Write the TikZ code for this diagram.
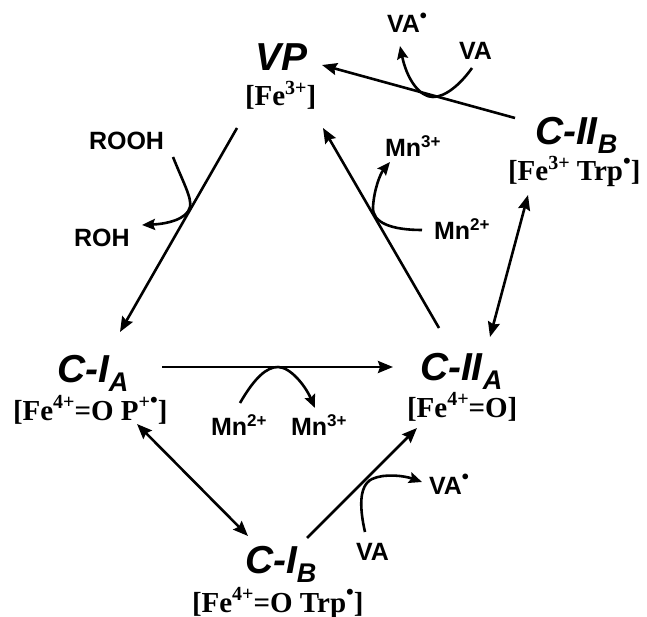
\documentclass[tikz,border=0pt]{standalone}
\usepackage{fontspec}
\setmainfont{Liberation Serif}
\setsansfont{Liberation Sans}
\usetikzlibrary{arrows.meta}
\newcommand\mainlab[2]{{\sffamily\bfseries\itshape\fontsize{39}{39}\selectfont #1\raisebox{-9pt}{\fontsize{27}{27}\selectfont #2}}}
\newcommand\vplab[1]{{\sffamily\bfseries\itshape\fontsize{39}{39}\selectfont #1}}
\newcommand\sidelab[1]{{\sffamily\bfseries\fontsize{25}{25}\selectfont #1}}
\newcommand\ssup[1]{\raisebox{0.36em}{\fontsize{17}{17}\selectfont #1}}
\newcommand\sbul{\raisebox{0.42em}{\fontsize{20}{20}\selectfont •}}
\newcommand\statelab[1]{{\rmfamily\bfseries\fontsize{29}{29}\selectfont #1}}
\newcommand\rsup[1]{\raisebox{0.38em}{\fontsize{20}{20}\selectfont #1}}
\newcommand\rbul{\raisebox{0.42em}{\fontsize{22}{22}\selectfont •}}
\tikzset{
  lab/.style={anchor=base west, inner sep=0pt, outer sep=0pt},
  conn/.style={line width=2.6pt, -{Stealth[length=15pt,width=12pt,inset=2pt]}},
  dconn/.style={line width=2.6pt, {Stealth[length=15pt,width=12pt,inset=2pt]}-{Stealth[length=15pt,width=12pt,inset=2pt]}},
  side/.style={line width=2.6pt, -{Stealth[length=13pt,width=11pt,inset=2pt]}},
}
\begin{document}
\begin{tikzpicture}[x=1pt,y=-1pt]
\useasboundingbox (0,0) rectangle (647,617);
% states
\node[lab] (vp) at (255,71) {\vplab{VP}};
\node[lab] (vps) at (245,106) {\statelab{[Fe\rsup{3+}]}};
\node[lab] (c2b) at (535,145) {\mainlab{C-II}{B}};
\node[lab] (c2bs) at (508,181) {\statelab{[Fe\rsup{3+} Trp\rbul]}};
\node[lab] (c1a) at (57,382) {\mainlab{C-I}{A}};
\node[lab] (c1as) at (13,420) {\statelab{[Fe\rsup{4+}=O P\rsup{+}\rbul]}};
\node[lab] (c2a) at (420,380) {\mainlab{C-II}{A}};
\node[lab] (c2as) at (407,417) {\statelab{[Fe\rsup{4+}=O]}};
\node[lab] (c1b) at (245,573) {\mainlab{C-I}{B}};
\node[lab] (c1bs) at (192,612) {\statelab{[Fe\rsup{4+}=O Trp\rbul]}};
% side labels
\node[lab] (rooh) at (89,150) {\sidelab{ROOH}};
\node[lab] (roh) at (74,247) {\sidelab{ROH}};
\node[lab] (mn3a) at (385,157) {\sidelab{Mn\ssup{3+}}};
\node[lab] (mn2a) at (434,240) {\sidelab{Mn\ssup{2+}}};
\node[lab] (vara) at (387,33) {\sidelab{VA\sbul}};
\node[lab] (vaa) at (459,60) {\sidelab{VA}};
\node[lab] (mn2b) at (211,435) {\sidelab{Mn\ssup{2+}}};
\node[lab] (mn3b) at (291,435) {\sidelab{Mn\ssup{3+}}};
\node[lab] (vab) at (356,560) {\sidelab{VA}};
\node[lab] (varb) at (429,494) {\sidelab{VA\sbul}};
% connector ends
\coordinate (c2b-o) at (515,118);
\coordinate (vp-i1) at (322,65);
\coordinate (vp-o) at (237,128);
\coordinate (c1a-i) at (120,332);
\coordinate (c2a-o) at (439,328);
\coordinate (vp-i2) at (323,128);
\coordinate (c2a-t) at (490,337);
\coordinate (c2b-b) at (528,195);
\coordinate (c1a-o) at (162,367);
\coordinate (c2a-i) at (393,367);
\coordinate (c1a-b) at (137,424);
\coordinate (c1b-t) at (248,536);
\coordinate (c1b-o) at (307,538);
\coordinate (c2a-i2) at (417,428);
% main connectors
\draw[conn] (c2b-o) -- (vp-i1);
\draw[conn] (vp-o) -- (c1a-i);
\draw[conn] (c2a-o) -- (vp-i2);
\draw[dconn] (c2a-t) -- (c2b-b);
\draw[conn] (c1a-o) -- (c2a-i);
\draw[dconn] (c1a-b) -- (c1b-t);
\draw[conn] (c1b-o) -- (c2a-i2);
% side reactions
\coordinate (rooh-e) at (173,157);
\coordinate (roh-e) at (142,225);
\draw[side] (rooh-e) .. controls (183,182) and (192,198) .. (190,207)
  .. controls (187,220) and (165,224) .. (roh-e);
\coordinate (mn2a-e) at (422,230);
\coordinate (mn3a-e) at (390,162);
\draw[side] (mn2a-e) .. controls (392,230) and (372,223) .. (373,207)
  .. controls (374,190) and (380,174) .. (mn3a-e);
\coordinate (vaa-e) at (472,68);
\coordinate (vara-e) at (400,46);
\draw[side] (vaa-e) .. controls (460,85) and (445,97) .. (433,97)
  .. controls (420,97) and (407,80) .. (vara-e);
\coordinate (mn2b-e) at (240,403);
\coordinate (mn3b-e) at (315,408);
\draw[side] (mn2b-e) .. controls (255,377) and (267,367) .. (278,367)
  .. controls (290,367) and (305,385) .. (mn3b-e);
\coordinate (vab-e) at (365,532);
\coordinate (varb-e) at (422,482);
\draw[side] (vab-e) .. controls (360,510) and (358,486) .. (372,479)
  .. controls (385,473) and (405,476) .. (varb-e);
\end{tikzpicture}
\end{document}
